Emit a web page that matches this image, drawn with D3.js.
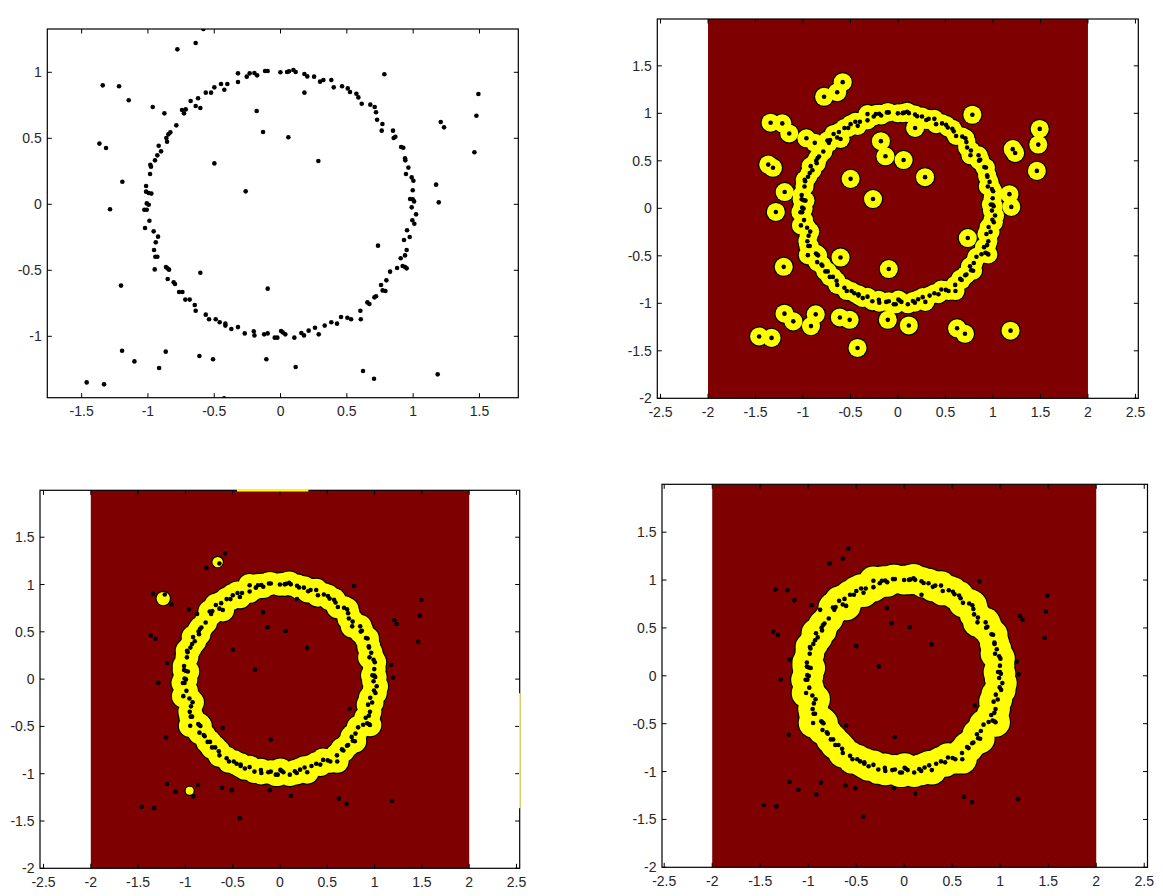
<!DOCTYPE html>
<html><head><meta charset="utf-8">
<script src="https://cdn.jsdelivr.net/npm/d3@7"></script>
<style>
body{margin:0;background:#fff}
svg{display:block}
text{font-family:"Liberation Sans",Arial,Helvetica,sans-serif;font-size:14px;fill:#262626}
</style>
</head><body>
<svg id="chart" width="1163" height="896"></svg>
<script>
// ---------- data ----------
const ringPoints = [
 [-1.014,0.139],[-1.014,0.096],[-0.994,0.086],[-0.974,0.081],[-0.984,0.230],[-0.982,0.300],[-0.977,0.285],[-0.947,0.333],
 [-0.929,0.371],[-0.901,0.401],[-0.919,0.444],[-0.856,0.474],[-0.861,0.502],[-0.846,0.530],[-0.831,0.545],[-0.786,0.598],
 [-0.743,0.714],[-0.728,0.689],[-0.715,0.719],[-0.678,0.783],[-0.640,0.745],[-0.622,0.803],[-0.605,0.730],[-0.564,0.846],
 [-0.524,0.846],[-0.499,0.886],[-0.449,0.911],[-0.424,0.868],[-0.401,0.911],[-0.321,0.992],[-0.321,0.926],[-0.255,0.967],
 [-0.233,0.992],[-0.197,0.995],[-0.177,0.977],[-0.117,1.010],[-0.097,1.010],[-0.001,1.000],[0.049,1.002],[0.064,1.007],
 [0.097,1.017],[0.114,1.002],[0.180,0.987],[0.202,0.969],[0.253,0.967],[0.298,0.929],[0.323,0.942],[0.383,0.942],
 [0.401,0.886],[0.464,0.894],[0.507,0.878],[0.524,0.851],[0.572,0.838],[0.587,0.810],[0.612,0.762],[0.677,0.755],
 [0.710,0.737],[0.720,0.697],[0.728,0.641],[0.768,0.608],[0.763,0.558],[0.848,0.558],[0.853,0.502],[0.866,0.512],
 [0.909,0.434],[0.926,0.429],[0.939,0.348],[0.941,0.333],[0.964,0.278],[0.946,0.230],[0.989,0.204],[1.002,0.179],
 [0.997,0.106],[0.977,0.040],[0.997,0.038],[1.007,0.022],[0.989,-0.023],
 [-1.009,0.007],[-0.994,-0.003],[-1.027,-0.041],[-1.009,-0.041],[-0.989,-0.124],[-1.022,-0.180],[-0.957,-0.205],[-0.924,-0.245],
 [-0.941,-0.288],[-0.954,-0.346],[-0.944,-0.397],[-0.929,-0.397],[-0.949,-0.493],[-0.864,-0.475],[-0.853,-0.485],[-0.841,-0.495],
 [-0.851,-0.566],[-0.806,-0.591],[-0.796,-0.604],[-0.765,-0.664],[-0.740,-0.664],[-0.718,-0.722],[-0.685,-0.722],[-0.647,-0.763],
 [-0.640,-0.806],[-0.564,-0.836],[-0.539,-0.871],[-0.489,-0.871],[-0.459,-0.894],[-0.416,-0.904],[-0.416,-0.919],[-0.371,-0.945],
 [-0.321,-0.930],[-0.270,-0.978],[-0.202,-0.962],[-0.197,-0.993],[-0.124,-0.985],[-0.097,-0.978],[-0.044,-1.010],[-0.024,-1.010],
 [0.004,-0.960],[0.016,-0.970],[0.036,-0.985],
 [0.104,-1.010],[0.157,-0.975],[0.177,-0.993],[0.212,-0.957],[0.260,-0.935],[0.288,-0.985],[0.333,-0.919],[0.383,-0.894],
 [0.426,-0.904],[0.456,-0.854],[0.504,-0.859],[0.532,-0.871],[0.602,-0.806],[0.605,-0.871],[0.655,-0.743],[0.670,-0.755],
 [0.708,-0.705],[0.720,-0.697],[0.758,-0.611],[0.770,-0.652],[0.791,-0.657],[0.798,-0.576],[0.826,-0.510],[0.879,-0.483],
 [0.921,-0.467],[0.939,-0.475],[0.951,-0.485],[0.906,-0.409],[0.939,-0.387],[0.951,-0.346],[0.931,-0.270],[0.974,-0.248],
 [0.954,-0.197],[0.994,-0.121],[1.009,-0.147],[1.022,-0.076]
];
const outlierPoints = [
 [-0.582,1.328],[-0.640,1.222],[-0.778,1.174],[-1.341,0.901],[-1.218,0.894],[-1.145,0.788],[-0.964,0.737],[-0.876,0.689],
 [-1.366,0.460],[-1.316,0.427],[-0.499,0.310],[-1.193,0.171],[-0.263,0.098],[-0.180,0.707],[-0.132,0.548],[0.059,0.508],
 [-1.286,-0.038],[0.180,0.846],[0.783,0.985],[0.285,0.328],[1.492,0.836],[1.477,0.671],[1.208,0.623],[1.233,0.583],
 [1.462,0.394],[1.173,0.149],[1.193,0.015],[-0.605,-0.518],[-0.097,-0.639],[-1.203,-0.616],[-1.195,-1.109],[-1.102,-1.190],
 [-0.916,-1.240],[-0.866,-1.116],[-0.612,-1.149],[-0.509,-1.174],[-0.107,-1.174],[-1.462,-1.349],[-1.331,-1.364],[-0.426,-1.470],
 [0.735,-0.313],[0.114,-1.233],[0.622,-1.263],[0.705,-1.321],[1.185,-1.288]
];
const xTicksScatter = [-1.5,-1,-0.5,0,0.5,1,1.5];
const yTicksScatter = [-1,-0.5,0,0.5,1];
const xTicksField = [-2.5,-2,-1.5,-1,-0.5,0,0.5,1,1.5,2,2.5];
const yTicksField = [-2,-1.5,-1,-0.5,0,0.5,1,1.5];
const fieldExtent = [-2, 2];
// level-set radius around each point (data units) per panel
const radiusStep1 = 0.095;   // top-right: every point
const radiusStep2 = 0.12;    // bottom-left: ring points
const radiusStep3 = 0.15;    // bottom-right: ring points
// small isolated blobs remaining in bottom-left: [x, y, r]
const blobsStep2 = [[-1.234,0.852,0.07],[-0.659,1.237,0.055],[-0.955,-1.181,0.042]];
// yellow edge remnants in bottom-left: top edge x-span, right edge y-span
const edgeTopStep2 = [-0.455, 0.30];
const edgeRightStep2 = [-0.15, -1.366];

const DARK = "#7f0000", YELLOW = "#ffff00";

const svg = d3.select("#chart");

const panels = [
 {box:[47.3,29,518.3,397.7], xd:[-1.759,1.793], yd:[-1.465,1.328], xt:xTicksScatter, yt:yTicksScatter, kind:"scatter"},
 {box:[657.3,19,1138.3,398.3], xd:[-2.534,2.530], yd:[-2,1.993], xt:xTicksField, yt:yTicksField, kind:"step1"},
 {box:[40,490.3,519.7,868.3], xd:[-2.537,2.534], yd:[-2,1.996], xt:xTicksField, yt:yTicksField, kind:"step2"},
 {box:[662,484.3,1147.5,867.3], xd:[-2.523,2.534], yd:[-2,2.0], xt:xTicksField, yt:yTicksField, kind:"step3"}
];

panels.forEach((p,i)=>{
  const [L,T,R,B] = p.box;
  const x = d3.scaleLinear().domain(p.xd).range([L,R]);
  const y = d3.scaleLinear().domain(p.yd).range([B,T]);
  const g = svg.append("g");
  const cid = "clip"+i;
  svg.append("defs").append("clipPath").attr("id",cid).append("rect")
     .attr("x",L).attr("y",T).attr("width",R-L).attr("height",B-T);
  const plot = g.append("g").attr("clip-path",`url(#${cid})`);

  if (p.kind !== "scatter") {
    plot.append("rect")
      .attr("x", x(fieldExtent[0])).attr("y", y(fieldExtent[1]))
      .attr("width", x(fieldExtent[1]) - x(fieldExtent[0]))
      .attr("height", y(fieldExtent[0]) - y(fieldExtent[1]))
      .attr("fill", DARK);
    let circles = [];
    if (p.kind === "step1") {
      ringPoints.concat(outlierPoints).forEach(d=>circles.push([d[0],d[1],radiusStep1]));
    } else if (p.kind === "step2") {
      ringPoints.forEach(d=>circles.push([d[0],d[1],radiusStep2]));
      blobsStep2.forEach(d=>circles.push(d));
    } else {
      ringPoints.forEach(d=>circles.push([d[0],d[1],radiusStep3]));
    }
    const rpx = r => x(r) - x(0);
    plot.append("g").selectAll("circle").data(circles).join("circle")
      .attr("cx",d=>x(d[0])).attr("cy",d=>y(d[1])).attr("r",d=>rpx(d[2])+1.2)
      .attr("fill","#000");
    plot.append("g").selectAll("circle").data(circles).join("circle")
      .attr("cx",d=>x(d[0])).attr("cy",d=>y(d[1])).attr("r",d=>rpx(d[2]))
      .attr("fill",YELLOW);
  }

  plot.append("g").selectAll("circle").data(ringPoints.concat(outlierPoints)).join("circle")
    .attr("cx",d=>x(d[0])).attr("cy",d=>y(d[1])).attr("r",2.3).attr("fill","#000");

  // frame
  g.append("rect").attr("x",L).attr("y",T).attr("width",R-L).attr("height",B-T)
    .attr("fill","none").attr("stroke","#000").attr("stroke-width",1.2);

  const tl = 4.5;
  p.xt.forEach(v=>{
    const xx = x(v);
    g.append("line").attr("x1",xx).attr("x2",xx).attr("y1",B).attr("y2",B-tl).attr("stroke","#000");
    g.append("line").attr("x1",xx).attr("x2",xx).attr("y1",T).attr("y2",T+tl).attr("stroke","#000");
    g.append("text").attr("x",xx).attr("y",B+18.5).attr("text-anchor","middle").text(String(v));
  });
  p.yt.forEach(v=>{
    const yy = y(v);
    g.append("line").attr("x1",L).attr("x2",L+tl).attr("y1",yy).attr("y2",yy).attr("stroke","#000");
    g.append("line").attr("x1",R).attr("x2",R-tl).attr("y1",yy).attr("y2",yy).attr("stroke","#000");
    g.append("text").attr("x",L-5.5).attr("y",yy+5).attr("text-anchor","end").text(String(v));
  });

  if (p.kind === "step2") {
    g.append("rect").attr("x",x(edgeTopStep2[0])).attr("y",T-1.2)
      .attr("width",x(edgeTopStep2[1])-x(edgeTopStep2[0])).attr("height",2.4).attr("fill",YELLOW);
    g.append("line").attr("x1",R).attr("x2",R).attr("y1",y(edgeRightStep2[0])).attr("y2",y(edgeRightStep2[1]))
      .attr("stroke",YELLOW).attr("stroke-width",1.4);
  }
});
</script>
</body></html>
